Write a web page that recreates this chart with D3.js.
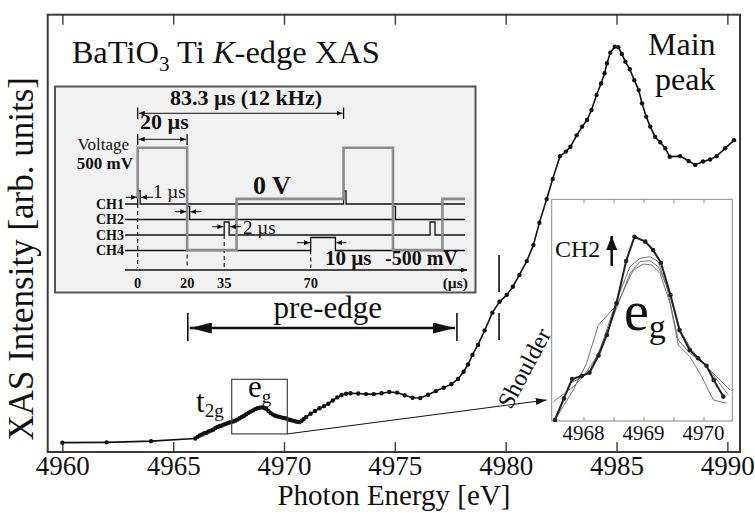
<!DOCTYPE html>
<html>
<head>
<meta charset="utf-8">
<script src="https://cdn.jsdelivr.net/npm/d3@7"></script>
<style>
  body { margin: 0; background: #fff; }
  svg { display: block; font-family: "Liberation Serif", "Times New Roman", serif; }
</style>
</head>
<body>
<svg id="chart" width="755" height="513"></svg>
<script>
// ---- Ti K-edge XAS spectrum of BaTiO3 (normalised intensity) ----
const energy = [
  4960, 4962, 4964, 4966.0, 4966.1, 4966.2, 4966.3, 4966.4, 4966.5, 4966.6, 4966.7, 4966.8, 4966.9,
  4967.0, 4967.1, 4967.2, 4967.3, 4967.4, 4967.5, 4967.6, 4967.7, 4967.8, 4967.9,
  4968.0, 4968.1, 4968.2, 4968.3, 4968.4, 4968.5, 4968.6, 4968.7, 4968.8, 4968.9,
  4969.0, 4969.1, 4969.2, 4969.3, 4969.4, 4969.5, 4969.6, 4969.7, 4969.8, 4969.9,
  4970.0, 4970.1, 4970.2, 4970.3, 4970.4, 4970.5, 4970.6, 4970.7, 4970.8, 4970.9,
  4971.0, 4971.2, 4971.4, 4971.6, 4971.8, 4972.0, 4972.2, 4972.4, 4972.6, 4972.8,
  4973.0, 4973.35, 4973.7, 4974.05, 4974.4, 4974.75, 4975.1, 4975.45, 4975.8, 4976.15,
  4976.5, 4976.85, 4977.2, 4977.55, 4977.85, 4978.1, 4978.3, 4978.5, 4978.75, 4979.05,
  4979.4, 4979.72, 4980.05, 4980.32, 4980.62, 4980.95, 4981.25, 4981.52, 4981.85, 4982.12,
  4982.45, 4982.72, 4982.92, 4983.2, 4983.45, 4983.67, 4983.87, 4984.1, 4984.3, 4984.46,
  4984.57, 4984.72, 4984.92, 4985.08, 4985.24, 4985.4, 4985.6, 4985.8, 4986.0, 4986.15,
  4986.34, 4986.52, 4986.74, 4986.97, 4987.2, 4987.4, 4987.87, 4988.25, 4988.55, 4988.9,
  4989.22, 4989.52, 4989.9, 4990.3
];
const intensity = [
  0.031, 0.032, 0.036, 0.045, 0.050, 0.055, 0.058, 0.062, 0.064, 0.068, 0.071, 0.074, 0.079,
  0.083, 0.086, 0.088, 0.091, 0.094, 0.097, 0.099, 0.101, 0.104, 0.108,
  0.112, 0.116, 0.120, 0.125, 0.130, 0.134, 0.138, 0.142, 0.145, 0.147,
  0.148, 0.146, 0.143, 0.136, 0.129, 0.124, 0.120, 0.118, 0.116, 0.114,
  0.113, 0.111, 0.108, 0.106, 0.104, 0.102, 0.100, 0.099, 0.104, 0.110,
  0.116, 0.127, 0.136, 0.145, 0.152, 0.160, 0.171, 0.181, 0.189, 0.193,
  0.195, 0.194, 0.192, 0.192, 0.195, 0.199, 0.197, 0.188, 0.180, 0.179,
  0.190, 0.202, 0.213, 0.225, 0.242, 0.266, 0.290, 0.322, 0.355, 0.403,
  0.462, 0.498, 0.521, 0.548, 0.587, 0.633, 0.686, 0.760, 0.839, 0.905,
  0.981, 0.996, 1.012, 1.050, 1.079, 1.101, 1.134, 1.184, 1.222, 1.256,
  1.289, 1.324, 1.344, 1.342, 1.320, 1.294, 1.269, 1.233, 1.200, 1.156,
  1.112, 1.079, 1.045, 1.027, 1.007, 0.979, 0.981, 0.965, 0.952, 0.963,
  0.970, 0.981, 1.007, 1.034
];
const xTicks = [4960, 4965, 4970, 4975, 4980, 4985, 4990];

// e_g pre-edge peak, magnified (CH2 trace bold, other channels thin)
const egEnergyCH2 = [4967.525, 4967.675, 4967.81, 4967.97, 4968.10, 4968.25, 4968.39, 4968.55, 4968.71, 4968.85,
                     4969.03, 4969.16, 4969.29, 4969.45, 4969.60, 4969.77, 4969.91, 4970.05, 4970.17, 4970.33];
const egCH2 = [0.005, 0.102, 0.189, 0.203, 0.218, 0.295, 0.388, 0.531, 0.722, 0.831,
               0.809, 0.771, 0.714, 0.568, 0.410, 0.320, 0.283, 0.249, 0.185, 0.110];
const egEnergyCH1 = [4967.497, 4967.83, 4968.108, 4968.275, 4968.553, 4968.775, 4968.942, 4969.108, 4969.247, 4969.386, 4969.58, 4969.775, 4969.997, 4970.192, 4970.442];
const egCH1 = [0.087, 0.155, 0.230, 0.320, 0.546, 0.696, 0.734, 0.741, 0.719, 0.606, 0.365, 0.305, 0.260, 0.207, 0.140];
const egEnergyCH3 = [4967.525, 4967.83, 4968.05, 4968.247, 4968.553, 4968.83, 4968.997, 4969.136, 4969.275, 4969.442, 4969.58, 4969.775, 4969.97, 4970.164, 4970.386];
const egCH3 = [0.005, 0.140, 0.260, 0.433, 0.523, 0.681, 0.708, 0.704, 0.666, 0.531, 0.343, 0.290, 0.200, 0.095, 0.080];
const egEnergyCH4 = [4967.525, 4967.775, 4967.997, 4968.22, 4968.497, 4968.775, 4968.942, 4969.108, 4969.247, 4969.414, 4969.608, 4969.803, 4970.053, 4970.247, 4970.414];
const egCH4 = [0.012, 0.170, 0.200, 0.290, 0.471, 0.666, 0.719, 0.723, 0.696, 0.591, 0.410, 0.320, 0.245, 0.177, 0.117];
const egTicks = [4968, 4969, 4970];
const egMinorTicks = [4968, 4968.5, 4969, 4969.5, 4970];

// Timing scheme of the applied voltage and the four counter gates
const voltageTime = [0, 0, 20, 20, 40, 40, 83.3, 83.3, 103.3, 103.3, 123.3, 123.3, 132.4];
const voltageMV   = [0, 500, 500, -500, -500, 0, 0, 500, 500, -500, -500, 0, 0];
const channels = ["CH1", "CH2", "CH3", "CH4"];
const gateStarts = [[0, 83.3], [20, 103.3], [35, 118.3], [70]];
const gateWidths = [1, 1, 2, 10];
const timeTicks = [0, 20, 35, 70];

const svg = d3.select("#chart");
const ink = "#111";
const frame = "#3a3a3a";

// arrowhead markers
const defs = svg.append("defs");
function marker(id, len, half, color) {
  defs.append("marker")
    .attr("id", id).attr("markerUnits", "userSpaceOnUse")
    .attr("viewBox", `0 0 ${len} ${half * 2}`)
    .attr("refX", len).attr("refY", half)
    .attr("markerWidth", len).attr("markerHeight", half * 2)
    .attr("orient", "auto-start-reverse")
    .append("path").attr("d", `M0,0L${len},${half}L0,${half * 2}Z`).attr("fill", color);
}
marker("headBig", 22, 5.5, ink);
marker("headMid", 11, 3.5, ink);
marker("headUp", 14, 5.5, ink);
marker("headTiny", 6, 2.5, ink);

// ---------------- main axes ----------------
const x = d3.scaleLinear().domain([4959.34, 4990.57]).range([47.7, 740]);
const y = d3.scaleLinear().domain([0, 1.45]).range([452, 14.7]);

const gBottom = svg.append("g").attr("transform", `translate(0,${y(0)})`)
  .call(d3.axisBottom(x).tickValues(xTicks).tickSize(-10).tickPadding(4).tickFormat(d3.format("d")));
const gTop = svg.append("g").attr("transform", `translate(0,${y(1.45)})`)
  .call(d3.axisTop(x).tickValues(xTicks).tickSize(-10).tickFormat(""));
[gBottom, gTop].forEach(g => {
  g.select(".domain").remove();
  g.selectAll(".tick line").attr("stroke", frame).attr("stroke-width", 1.4);
});
gBottom.selectAll(".tick text")
  .attr("fill", ink).attr("font-size", 27).attr("font-family", "Liberation Serif");

svg.append("rect")
  .attr("x", x.range()[0]).attr("y", y.range()[1])
  .attr("width", x.range()[1] - x.range()[0]).attr("height", y.range()[0] - y.range()[1])
  .attr("fill", "none").attr("stroke", frame).attr("stroke-width", 2);

svg.append("text").attr("x", 394).attr("y", 505).attr("text-anchor", "middle")
  .attr("font-size", 29).attr("fill", ink).text("Photon Energy [eV]");
svg.append("text").attr("transform", "translate(33,77) rotate(-90)").attr("text-anchor", "end")
  .attr("font-size", 35).attr("fill", ink).text("XAS Intensity [arb. units]");

// title
const title = svg.append("text").attr("x", 71.7).attr("y", 63).attr("font-size", 32.5).attr("fill", ink);
title.append("tspan").text("BaTiO");
title.append("tspan").attr("font-size", 21).attr("dy", 8).text("3");
title.append("tspan").attr("dy", -8).text(" Ti ");
title.append("tspan").attr("font-style", "italic").text("K");
title.append("tspan").text("-edge XAS");

// spectrum
const pts = energy.map((e, i) => [e, intensity[i]]);
svg.append("path").datum(pts)
  .attr("d", d3.line().x(d => x(d[0])).y(d => y(d[1])))
  .attr("fill", "none").attr("stroke", ink).attr("stroke-width", 1.6);
svg.append("g").selectAll("circle").data(pts).join("circle")
  .attr("cx", d => x(d[0])).attr("cy", d => y(d[1])).attr("r", 2.2).attr("fill", ink);

// labels on the spectrum
const mp = svg.append("text").attr("font-size", 32).attr("fill", ink);
mp.append("tspan").attr("x", 648).attr("y", 55).text("Main");
mp.append("tspan").attr("x", 655).attr("y", 90).text("peak");

const t2g = svg.append("text").attr("x", 196).attr("y", 412).attr("font-size", 31).attr("fill", ink);
t2g.append("tspan").text("t");
t2g.append("tspan").attr("font-size", 19).attr("dy", 5).text("2g");

// e_g window
const egBox = { e0: 4967.64, e1: 4970.15, v0: 0.060, v1: 0.241 };
svg.append("rect")
  .attr("x", x(egBox.e0)).attr("y", y(egBox.v1))
  .attr("width", x(egBox.e1) - x(egBox.e0)).attr("height", y(egBox.v0) - y(egBox.v1))
  .attr("fill", "none").attr("stroke", "#444").attr("stroke-width", 1.2);
const egL = svg.append("text").attr("x", 248).attr("y", 397).attr("font-size", 31).attr("fill", ink);
egL.append("tspan").text("e");
egL.append("tspan").attr("font-size", 19).attr("dy", 6).text("g");

// pre-edge range
const preY = 328;
svg.append("line").attr("x1", x(4965.66) + 2).attr("x2", x(4977.8) - 2).attr("y1", preY).attr("y2", preY)
  .attr("stroke", ink).attr("stroke-width", 2.4)
  .attr("marker-start", "url(#headBig)").attr("marker-end", "url(#headBig)");
[4965.66, 4977.8].forEach(e => {
  svg.append("line").attr("x1", x(e)).attr("x2", x(e)).attr("y1", 313).attr("y2", 341)
    .attr("stroke", ink).attr("stroke-width", 1.6);
});
svg.append("text").attr("x", 382).attr("y", 318).attr("text-anchor", "end")
  .attr("font-size", 31).attr("fill", ink).text("pre-edge");

// shoulder marker
[[255, 292], [313, 340]].forEach(([a, b]) => {
  svg.append("line").attr("x1", x(4979.7)).attr("x2", x(4979.7)).attr("y1", a).attr("y2", b)
    .attr("stroke", ink).attr("stroke-width", 1.6);
});
svg.append("text").attr("transform", "translate(524,368) rotate(-62)").attr("text-anchor", "middle")
  .attr("dy", "0.35em").attr("font-size", 24).attr("fill", ink).text("Shoulder");

// ---------------- magnified e_g panel ----------------
const ix = d3.scaleLinear().domain([4967.47, 4970.48]).range([551.7, 732.3]);
const iy = d3.scaleLinear().domain([0, 1]).range([421, 199.3]);

svg.append("line")
  .attr("x1", x(egBox.e1)).attr("y1", y(egBox.v0)).attr("x2", ix.range()[0] - 5).attr("y2", 400)
  .attr("stroke", ink).attr("stroke-width", 1).attr("marker-end", "url(#headMid)");

svg.append("rect").attr("x", ix.range()[0]).attr("y", iy.range()[1])
  .attr("width", ix.range()[1] - ix.range()[0]).attr("height", iy.range()[0] - iy.range()[1])
  .attr("fill", "#fff").attr("stroke", "#888").attr("stroke-width", 1);

const iBottom = svg.append("g").attr("transform", `translate(0,${iy(0)})`)
  .call(d3.axisBottom(ix).tickValues(egMinorTicks).tickSize(-4).tickFormat(""));
const iTop = svg.append("g").attr("transform", `translate(0,${iy(1)})`)
  .call(d3.axisTop(ix).tickValues(egMinorTicks).tickSize(-4).tickFormat(""));
[iBottom, iTop].forEach(g => {
  g.select(".domain").remove();
  g.selectAll(".tick line").attr("stroke", "#888");
});
svg.append("g").selectAll("text").data(egTicks).join("text")
  .attr("x", d => ix(d)).attr("y", 440).attr("text-anchor", "middle")
  .attr("font-size", 21).attr("fill", ink).text(d => d);

const iline = d3.line().x(d => ix(d[0])).y(d => iy(d[1]));
[[egEnergyCH1, egCH1], [egEnergyCH3, egCH3], [egEnergyCH4, egCH4]].forEach(([es, vs]) => {
  svg.append("path").datum(es.map((e, i) => [e, vs[i]])).attr("d", iline)
    .attr("fill", "none").attr("stroke", "#666").attr("stroke-width", 0.9);
});
const ch2pts = egEnergyCH2.map((e, i) => [e, egCH2[i]]);
svg.append("path").datum(ch2pts).attr("d", iline)
  .attr("fill", "none").attr("stroke", "#222").attr("stroke-width", 2);
svg.append("g").selectAll("circle").data(ch2pts).join("circle")
  .attr("cx", d => ix(d[0])).attr("cy", d => iy(d[1])).attr("r", 2.3).attr("fill", "#222");

svg.append("text").attr("x", 555).attr("y", 257).attr("font-size", 24).attr("fill", ink).text("CH2");
svg.append("line").attr("x1", 611.7).attr("x2", 611.7).attr("y1", 266).attr("y2", 236)
  .attr("stroke", ink).attr("stroke-width", 2.6).attr("marker-end", "url(#headUp)");
const egBig = svg.append("text").attr("x", 624).attr("y", 330).attr("font-size", 56).attr("fill", ink);
egBig.append("tspan").text("e");
egBig.append("tspan").attr("font-size", 34).attr("dy", 8).text("g");

// ---------------- timing scheme ----------------
const tX = d3.scaleLinear().domain([0, 70]).range([137.7, 310.7]);
const vY = d3.scaleLinear().domain([-500, 500]).range([250, 147.7]);
const chY = d3.scalePoint().domain(channels).range([204, 250.5]);
const gateH = 13;
const tMin = -5.1, tMax = 132.4;

const tg = svg.append("g").attr("font-weight", "bold").attr("fill", ink);
tg.append("rect").attr("x", 55).attr("y", 86.5).attr("width", 420.5).attr("height", 206)
  .attr("fill", "#f1f1f1").attr("stroke", "#555").attr("stroke-width", 2);

// dashed guides down to the time axis
timeTicks.forEach((t, i) => {
  tg.append("line").attr("x1", tX(t)).attr("x2", tX(t)).attr("y1", chY(channels[i])).attr("y2", 268)
    .attr("stroke", ink).attr("stroke-width", 1.1).attr("stroke-dasharray", "4,3");
});

// gate channels
channels.forEach((ch, i) => {
  const p = [[tMin, 0]];
  gateStarts[i].forEach(s => { p.push([s, 0], [s, 1], [s + gateWidths[i], 1], [s + gateWidths[i], 0]); });
  p.push([tMax, 0]);
  tg.append("path").datum(p)
    .attr("d", d3.line().x(d => tX(d[0])).y(d => chY(ch) - d[1] * gateH))
    .attr("fill", "none").attr("stroke", ink).attr("stroke-width", 1.3);
  tg.append("text").attr("x", 124).attr("y", chY(ch) + 4.5).attr("text-anchor", "end")
    .attr("font-size", 14).text(ch);
});

// applied voltage
tg.append("path").datum(voltageTime.map((t, i) => [t, voltageMV[i]]))
  .attr("d", d3.line().x(d => tX(d[0])).y(d => vY(d[1])))
  .attr("fill", "none").attr("stroke", "#8c8c8c").attr("stroke-width", 2.6);

// time axis
tg.append("line").attr("x1", 125).attr("x2", 467).attr("y1", 270).attr("y2", 270)
  .attr("stroke", ink).attr("stroke-width", 1.3).attr("marker-end", "url(#headTiny)");
timeTicks.forEach(t => {
  tg.append("text").attr("x", tX(t)).attr("y", 287.5).attr("text-anchor", "middle")
    .attr("font-size", 14.5).text(t);
});
tg.append("text").attr("x", 468).attr("y", 287.5).attr("text-anchor", "end").attr("font-size", 15.5).text("(µs)");

// dimension lines
function dim(t0, t1, yy, barTop, barBot) {
  tg.append("line").attr("x1", tX(t0) + 1).attr("x2", tX(t1) - 1).attr("y1", yy).attr("y2", yy)
    .attr("stroke", ink).attr("stroke-width", 1)
    .attr("marker-start", "url(#headTiny)").attr("marker-end", "url(#headTiny)");
  [t0, t1].forEach(t => tg.append("line").attr("x1", tX(t)).attr("x2", tX(t))
    .attr("y1", barTop).attr("y2", barBot).attr("stroke", ink).attr("stroke-width", 1.3));
}
dim(0, 83.3, 113.3, 107.5, 119);
dim(0, 20, 139.3, 134, 145);
tg.append("text").attr("x", 170).attr("y", 105).attr("font-size", 22).text("83.3 µs (12 kHz)");
tg.append("text").attr("x", 140).attr("y", 128.5).attr("font-size", 22).text("20 µs");

// inward arrows marking gate widths
function gateArrows(t0, t1, yy, lenL, lenR) {
  tg.append("line").attr("x1", tX(t0) - lenL).attr("x2", tX(t0) - 0.8).attr("y1", yy).attr("y2", yy)
    .attr("stroke", ink).attr("stroke-width", 1).attr("marker-end", "url(#headTiny)");
  tg.append("line").attr("x1", tX(t1) + lenR).attr("x2", tX(t1) + 0.8).attr("y1", yy).attr("y2", yy)
    .attr("stroke", ink).attr("stroke-width", 1).attr("marker-end", "url(#headTiny)");
}
gateArrows(0, 1, 197.3, 12, 13);
gateArrows(20, 21, 211.7, 12, 12);
gateArrows(35, 37, 226.7, 12, 12);
gateArrows(70, 80, 242.7, 14, 11);

tg.append("text").attr("x", 153).attr("y", 197.5).attr("font-size", 19).attr("font-weight", "normal").text("1 µs");
tg.append("text").attr("x", 243).attr("y", 234).attr("font-size", 19).attr("font-weight", "normal").text("2 µs");
tg.append("text").attr("x", 325).attr("y", 265).attr("font-size", 21).text("10 µs");
tg.append("text").attr("x", 385).attr("y", 265).attr("font-size", 20).text("-500 mV");
tg.append("text").attr("x", 253).attr("y", 193.5).attr("font-size", 26).text("0 V");
tg.append("text").attr("x", 129).attr("y", 150).attr("text-anchor", "end").attr("font-size", 17)
  .attr("font-weight", "normal").text("Voltage");
tg.append("text").attr("x", 133).attr("y", 169).attr("text-anchor", "end").attr("font-size", 17).text("500 mV");
</script>
</body>
</html>
